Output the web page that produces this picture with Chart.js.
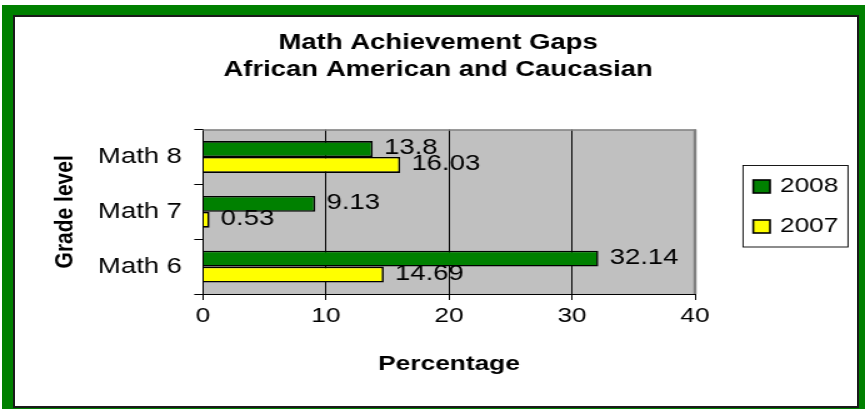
<!DOCTYPE html>
<html>
<head>
<meta charset="utf-8">
<script src="https://cdn.jsdelivr.net/npm/chart.js@4.4.1/dist/chart.umd.min.js"></script>
<style>
  html, body { margin: 0; padding: 0; background: #fff; }
  body { width: 865px; height: 409px; position: relative; overflow: hidden; }
  #frame { position: absolute; left: 2px; top: 5px; width: 863px; height: 404px; background: #008000; }
  #inner { position: absolute; left: 13px; top: 15px; width: 846px; height: 393px; background: #fff;
           border: 2px solid #1a1a1a; box-sizing: border-box; }
  #wrap { position: absolute; left: 0; top: 0; width: 692px; height: 409px;
          transform: scaleX(1.25); transform-origin: 0 0; }
</style>
</head>
<body>
<div id="frame"></div>
<div id="inner"></div>
<div id="wrap"><canvas id="myChart" width="692" height="409"></canvas></div>
<script>
// chart data
const grades = ['Math 8', 'Math 7', 'Math 6'];
const seriesNames = ['2008', '2007'];
const gap2008 = [13.8, 9.13, 32.14];
const gap2007 = [16.03, 0.53, 14.69];
const xTicks = [0, 10, 20, 30, 40];
const titleLines = ['Math Achievement Gaps', 'African American and Caucasian'];

const FONT = "'Liberation Sans', Arial, sans-serif";
Chart.defaults.color = '#000';
Chart.defaults.font.family = FONT;

// gray plot background + border
const plotBg = {
  id: 'plotBg',
  beforeDraw(chart) {
    const { ctx, chartArea: a } = chart;
    ctx.save();
    ctx.fillStyle = '#c0c0c0';
    ctx.fillRect(a.left, a.top, a.right - a.left, a.bottom - a.top);
    ctx.restore();
  },
  beforeDatasetsDraw(chart) {
    const { ctx, chartArea: a } = chart;
    ctx.save();
    ctx.strokeStyle = '#808080';
    ctx.lineWidth = 1.5;
    ctx.beginPath();
    ctx.moveTo(a.left, a.top + 0.5);
    ctx.lineTo(a.right, a.top + 0.5);
    ctx.stroke();
    ctx.lineWidth = 2.5;
    ctx.beginPath();
    ctx.moveTo(a.right, a.top);
    ctx.lineTo(a.right, a.bottom);
    ctx.stroke();
    ctx.restore();
  }
};

// value labels at the bar ends
const barLabels = {
  id: 'barLabels',
  afterDatasetsDraw(chart) {
    const { ctx } = chart;
    ctx.save();
    ctx.font = '22px ' + FONT;
    ctx.fillStyle = '#000';
    ctx.textAlign = 'left';
    ctx.textBaseline = 'middle';
    chart.data.datasets.forEach((ds, i) => {
      chart.getDatasetMeta(i).data.forEach((bar, j) => {
        ctx.fillText(String(ds.data[j]), bar.x + 9, bar.y - 1);
      });
    });
    ctx.restore();
  }
};

// boxed legend on the right
const boxLegend = {
  id: 'boxLegend',
  afterDraw(chart) {
    const { ctx } = chart;
    ctx.save();
    ctx.strokeStyle = '#000';
    ctx.lineWidth = 0.9;
    ctx.strokeRect(594.4, 165.5, 84, 81.5);
    const rows = [186.5, 226.5];
    ctx.font = '21px ' + FONT;
    ctx.textAlign = 'left';
    ctx.textBaseline = 'middle';
    chart.data.datasets.forEach((ds, i) => {
      const y = rows[i];
      ctx.fillStyle = ds.backgroundColor;
      ctx.fillRect(602.6, y - 6.5, 13.4, 13);
      ctx.lineWidth = 1.6;
      ctx.strokeRect(602.6, y - 6.5, 13.4, 13);
      ctx.fillStyle = '#000';
      ctx.fillText(ds.label, 624, y);
    });
    ctx.restore();
  }
};

const ctx = document.getElementById('myChart').getContext('2d');
new Chart(ctx, {
  type: 'bar',
  data: {
    labels: grades,
    datasets: [
      { label: seriesNames[0], data: gap2008, backgroundColor: '#008000', borderColor: '#000', borderWidth: 1.6 },
      { label: seriesNames[1], data: gap2007, backgroundColor: '#ffff00', borderColor: '#000', borderWidth: 1.6 }
    ]
  },
  options: {
    indexAxis: 'y',
    responsive: false,
    animation: false,
    events: [],
    categoryPercentage: 0.58,
    barPercentage: 1.0,
    layout: { padding: { left: 9, right: 0, top: 0, bottom: 0 } },
    plugins: {
      legend: { display: false },
      tooltip: { enabled: false },
      title: {
        display: true,
        text: titleLines,
        color: '#000',
        font: { size: 22, weight: 'bold', lineHeight: 27 / 22 },
        padding: { top: 29, bottom: 46.6 }
      }
    },
    scales: {
      x: {
        min: xTicks[0],
        max: xTicks[xTicks.length - 1],
        ticks: { stepSize: 10, font: { size: 21 }, padding: 4, color: '#000' },
        grid: { color: '#000', lineWidth: 1, tickLength: 6, tickColor: '#000' },
        border: { display: true, color: '#000', width: 1 },
        title: { display: true, text: 'Percentage', font: { size: 21, weight: 'bold' }, padding: { top: 0, bottom: 32 } },
        afterFit: s => { s.height = 115; }
      },
      y: {
        ticks: { font: { size: 22 }, padding: 9.8, color: '#000' },
        grid: { drawOnChartArea: false, tickLength: 7, color: '#000', offset: true },
        border: { display: true, color: '#000', width: 1 },
        title: { display: true, text: 'Grade level', font: { size: 21, weight: 'bold' }, padding: { top: 30.5, bottom: 0 } },
        afterFit: s => { s.width = 153.4; }
      },
      legendSpace: {
        type: 'category',
        position: 'right',
        display: true,
        ticks: { display: false },
        grid: { display: false },
        border: { display: false },
        afterFit: s => { s.width = 136; }
      }
    }
  },
  plugins: [plotBg, barLabels, boxLegend]
});
</script>
</body>
</html>
